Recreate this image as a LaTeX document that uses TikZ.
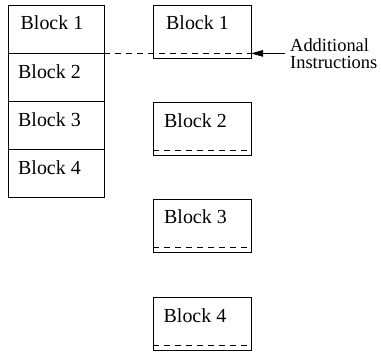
\documentclass[tikz,border=0pt]{standalone}
\usepackage{fontspec}
\setmainfont{Liberation Serif}
\usetikzlibrary{arrows.meta}
\begin{document}
\begin{tikzpicture}[x=1bp,y=-1bp,
  lblk/.style={draw,line width=0.8bp,minimum width=96bp,minimum height=48bp,inner sep=0,outer sep=0},
  rblk/.style={draw,line width=0.8bp,minimum width=98bp,minimum height=53bp,inner sep=0,outer sep=0},
  txt/.style={inner sep=0,anchor=base west,font=\fontsize{20}{24}\selectfont},
  dsh/.style={dashed,dash pattern=on 6bp off 5bp,line width=0.9bp},
  arr/.style={-{Triangle[length=12bp,width=6.5bp]},line width=0.8bp}]
\useasboundingbox (0,0) rectangle (381,354);
% left column
\node[lblk] (l1) at (56,29) {};
\node[lblk] (l2) at (56,77) {};
\node[lblk] (l3) at (56,125) {};
\node[lblk] (l4) at (56,173) {};
\node[txt] (l1t) at (20.5,29) {Block 1};
\node[txt] (l2t) at (18,78) {Block 2};
\node[txt] (l3t) at (18,126) {Block 3};
\node[txt] (l4t) at (18,174.5) {Block 4};
% right column
\node[rblk] (r1) at (202,31.5) {};
\node[rblk] (r2) at (202,128.5) {};
\node[rblk] (r3) at (202,225.5) {};
\node[rblk] (r4) at (202,323.5) {};
\node[txt] (r1t) at (166,29) {Block 1};
\node[txt] (r2t) at (164,127) {Block 2};
\node[txt] (r3t) at (164,223) {Block 3};
\node[txt] (r4t) at (163.5,322) {Block 4};
% dashed lines
\coordinate (d1e) at (251,53.4);
\draw[dsh] (l1.south east |- d1e) -- (d1e);
\draw[dsh] ([yshift=5bp]r2.south west) -- ([yshift=5bp]r2.south east);
\draw[dsh] ([yshift=5bp]r3.south west) -- ([yshift=5bp]r3.south east);
\draw[dsh] ([yshift=5bp]r4.south west) -- ([yshift=5bp]r4.south east);
% annotation
\node[inner sep=0,anchor=north west,align=left,font=\fontsize{18.5}{17}\selectfont] (add) at (290,38.5) {Additional\\Instructions};
\draw[arr] ([xshift=-5bp]add.west |- d1e) -- (d1e);
\end{tikzpicture}
\end{document}
